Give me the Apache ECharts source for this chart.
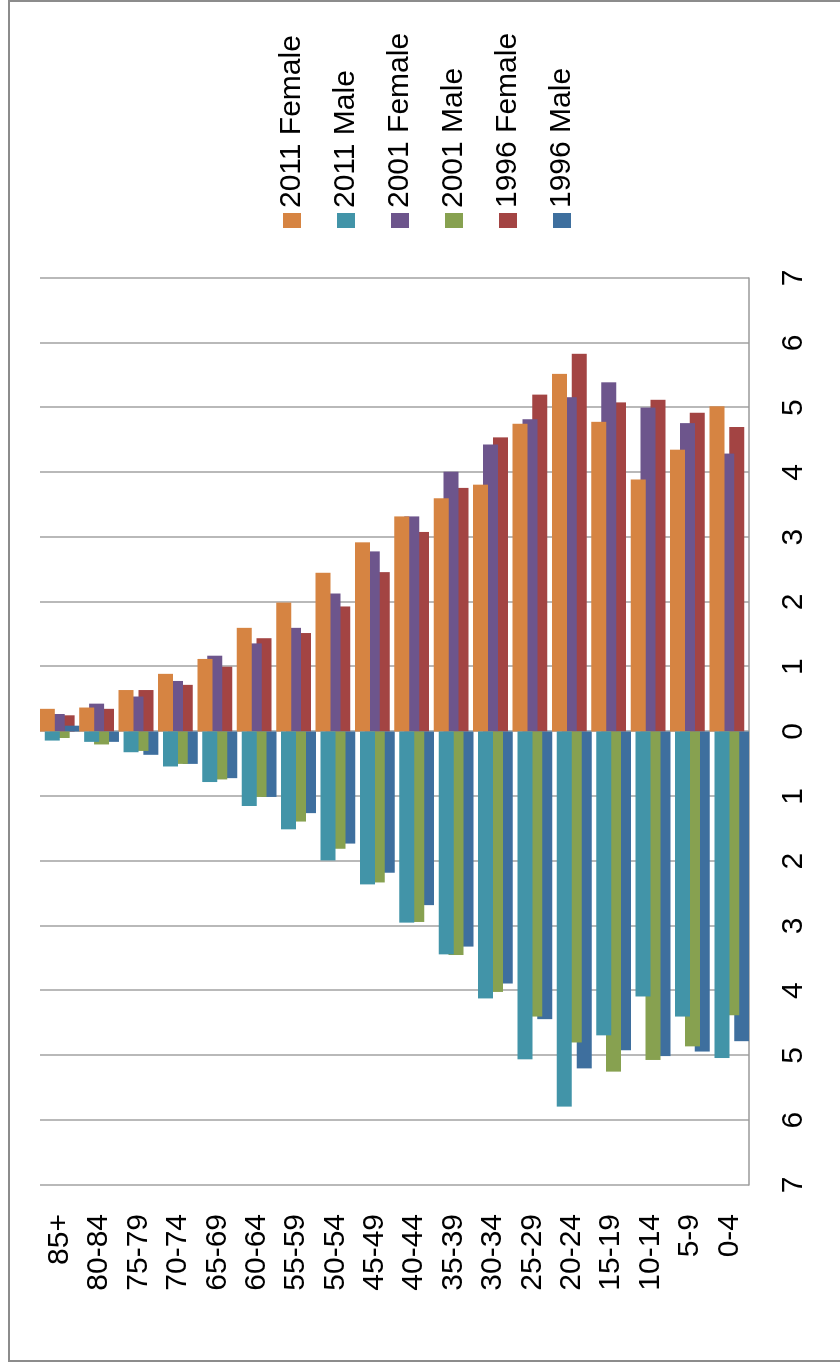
<!DOCTYPE html>
<html>
<head>
<meta charset="utf-8">
<title>Population by age group, 1996 / 2001 / 2011</title>
<script src="https://cdn.jsdelivr.net/npm/echarts/dist/echarts.min.js"></script>
<style>
  html, body { margin: 0; padding: 0; background: #fff; }
  body { width: 840px; height: 1366px; position: relative; overflow: hidden; }
  #frame {
    position: absolute; left: 8px; top: 0; width: 860px; height: 1358px;
    border: 2px solid #8c8c8c; border-right: none;
  }
  /* the chart is drawn the usual way round and turned a quarter turn */
  #main {
    position: absolute; left: 0; top: 0; width: 1366px; height: 840px;
    transform-origin: 0 0;
    transform: translateY(1366px) rotate(-90deg);
  }
</style>
</head>
<body>
<div id="frame"></div>
<div id="main"></div>
<script>
  var categories = ["85+", "80-84", "75-79", "70-74", "65-69", "60-64", "55-59", "50-54", "45-49",
    "40-44", "35-39", "30-34", "25-29", "20-24", "15-19", "10-14", "5-9", "0-4"];

  // percent of population, female drawn up, male drawn down
  var female2011 = [0.35, 0.37, 0.64, 0.89, 1.12, 1.60, 1.99, 2.45, 2.92, 3.32, 3.60, 3.81, 4.75, 5.52, 4.78, 3.89, 4.35, 5.02];
  var male2011 = [-0.14, -0.16, -0.32, -0.54, -0.78, -1.15, -1.51, -1.99, -2.36, -2.95, -3.44, -4.12, -5.06, -5.79, -4.69, -4.09, -4.40, -5.04];
  var female2001 = [0.27, 0.43, 0.54, 0.78, 1.17, 1.36, 1.60, 2.13, 2.78, 3.32, 4.01, 4.43, 4.82, 5.16, 5.39, 5.00, 4.76, 4.29];
  var male2001 = [-0.10, -0.20, -0.30, -0.50, -0.74, -1.01, -1.39, -1.81, -2.33, -2.94, -3.45, -4.02, -4.40, -4.80, -5.25, -5.07, -4.86, -4.38];
  var female1996 = [0.25, 0.35, 0.64, 0.72, 1.00, 1.44, 1.52, 1.93, 2.46, 3.08, 3.76, 4.54, 5.20, 5.83, 5.08, 5.12, 4.92, 4.70];
  var male1996 = [0.09, -0.16, -0.36, -0.50, -0.72, -1.01, -1.26, -1.73, -2.18, -2.68, -3.32, -3.89, -4.44, -5.20, -4.92, -5.01, -4.94, -4.78];

  var seriesNames = ["2011 Female", "2011 Male", "2001 Female", "2001 Male", "1996 Female", "1996 Male"];
  var seriesData = [female2011, male2011, female2001, male2001, female1996, male1996];
  var colors = ["#d68442", "#4294a8", "#6d558c", "#87a150", "#a34443", "#3e6f9e"];
  var valueTicks = { min: -7, max: 7, interval: 1 };

  var font = "'Liberation Sans', Arial, sans-serif";
  var chart = echarts.init(document.getElementById("main"), null, { renderer: "canvas", devicePixelRatio: 1 });

  var series = [];
  for (var i = 0; i < seriesNames.length; i++) {
    series.push({
      name: seriesNames[i],
      type: "bar",
      data: seriesData[i],
      barWidth: 15,
      barGap: "-67%",
      z: 5 - Math.floor(i / 2), // older years sit behind
      itemStyle: { color: colors[i] },
      emphasis: { disabled: true }
    });
  }

  var option = {
    animation: false,
    backgroundColor: "transparent",
    color: colors,
    legend: {
      orient: "vertical",
      left: 1138,
      top: 277,
      padding: 0,
      icon: "rect",
      itemWidth: 15,
      itemHeight: 18,
      itemGap: 24,
      selectedMode: false,
      textStyle: { fontFamily: font, fontSize: 30, color: "#000", lineHeight: 30 },
      data: seriesNames
    },
    grid: { left: 181, right: 278, top: 40, bottom: 91, outerBoundsMode: "none" },
    xAxis: {
      type: "value",
      min: valueTicks.min,
      max: valueTicks.max,
      interval: valueTicks.interval,
      axisLine: { show: true, lineStyle: { color: "#9a9a9a", width: 1.5 } },
      axisTick: { show: false },
      splitLine: { show: true, lineStyle: { color: "#a8a8a8", width: 1.6 } },
      axisLabel: {
        fontFamily: font, fontSize: 30, color: "#000", margin: 30,
        formatter: function (v) { return Math.abs(v); }
      }
    },
    yAxis: {
      type: "category",
      inverse: true,
      data: categories,
      axisLine: { show: false },
      axisTick: { show: false },
      splitLine: { show: false },
      axisLabel: { fontFamily: font, fontSize: 30, color: "#000", margin: 29, interval: 0 }
    },
    series: series
  };

  chart.setOption(option);
</script>
</body>
</html>
